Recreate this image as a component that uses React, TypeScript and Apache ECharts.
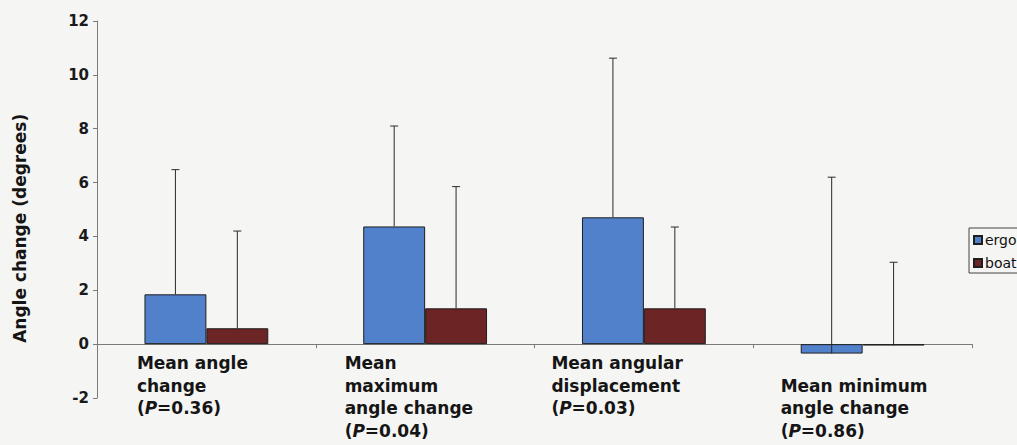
import React, { useEffect, useRef } from "react";
import * as echarts from "echarts";

const seriesNames = ["ergo", "boat"];
const ergoMeans = [1.85, 4.37, 4.71, -0.35];
const ergoSD = [4.63, 3.73, 5.91, 6.55];
const boatMeans = [0.59, 1.33, 1.33, -0.05];
const boatSD = [3.61, 4.52, 3.02, 3.09];
const categories = [
  "Mean angle change",
  "Mean maximum angle change",
  "Mean angular displacement",
  "Mean minimum angle change",
];
const labelLines = [
  ["Mean angle", "change"],
  ["Mean", "maximum", "angle change"],
  ["Mean angular", "displacement"],
  ["Mean minimum", "angle change"],
];
const pValues = ["0.36", "0.04", "0.03", "0.86"];
const yTicks = [-2, 0, 2, 4, 6, 8, 10, 12];
const yTitle = "Angle change (degrees)";

const FONT = "DejaVu Sans";
const BLUE = "#5281cc";
const BROWN = "#6c2425";
const GAP_RATIO = 0.434;

export default function App() {
  const ref = useRef<HTMLDivElement>(null);
  useEffect(() => {
    if (!ref.current) return;
    const chart = echarts.init(ref.current, null, { renderer: "svg" });

    const errSeries = (means: number[], sds: number[], side: number) => ({
      type: "custom",
      silent: true,
      z: 5,
      data: means.map((m, i) => [i, m, m + sds[i]]),
      renderItem: (params: any, api: any) => {
        const idx = api.value(0);
        const band = api.size([1, 0])[0];
        const barW = (band * (1 - GAP_RATIO)) / 2;
        const c0 = api.coord([idx, api.value(1)]);
        const c1 = api.coord([idx, api.value(2)]);
        const x = c0[0] + side * barW / 2;
        const style = { stroke: "#2a2a2a", lineWidth: 1 };
        return {
          type: "group",
          children: [
            { type: "line", shape: { x1: x, y1: c0[1], x2: x, y2: c1[1] }, style },
            { type: "line", shape: { x1: x - 4, y1: c1[1], x2: x + 4, y2: c1[1] }, style },
          ],
        };
      },
    });

    const option: any = {
      animation: false,
      backgroundColor: "#f5f5f4",
      grid: { left: 97, top: 21, right: 45, bottom: 47, containLabel: false },
      legend: {
        orient: "vertical",
        left: 969,
        top: 228,
        data: seriesNames,
        itemWidth: 8,
        itemHeight: 8,
        itemGap: 9,
        padding: [5, 20, 3, 4],
        borderColor: "#444",
        borderWidth: 1,
        icon: "rect",
        textStyle: { fontFamily: FONT, fontSize: 14, color: "#111", lineHeight: 14, padding: [0, 0, 0, -2] },
      },
      xAxis: {
        type: "category",
        data: categories,
        axisLine: { onZero: true, lineStyle: { color: "#7a7a7a", width: 1 } },
        axisTick: { show: true, length: 4, lineStyle: { color: "#7a7a7a" } },
        axisLabel: { show: false },
        splitLine: { show: false },
      },
      yAxis: {
        type: "value",
        min: yTicks[0],
        max: yTicks[yTicks.length - 1],
        interval: 2,
        axisLine: { show: true, lineStyle: { color: "#7a7a7a", width: 1 } },
        axisTick: { show: true, length: 4, lineStyle: { color: "#7a7a7a" } },
        splitLine: { show: false },
        axisLabel: {
          fontFamily: FONT,
          fontWeight: "bold",
          fontSize: 15,
          color: "#1a1a1a",
          margin: 8,
        },
      },
      series: [
        {
          name: seriesNames[0],
          type: "bar",
          data: ergoMeans,
          barGap: "0%",
          barCategoryGap: GAP_RATIO * 100 + "%",
          itemStyle: { color: BLUE, borderColor: "#1e1e1e", borderWidth: 1 },
        },
        {
          name: seriesNames[1],
          type: "bar",
          data: boatMeans,
          barGap: "0%",
          barCategoryGap: GAP_RATIO * 100 + "%",
          itemStyle: { color: BROWN, borderColor: "#1e1e1e", borderWidth: 1 },
        },
        errSeries(ergoMeans, ergoSD, -1),
        errSeries(boatMeans, boatSD, 1),
      ],
    };
    chart.setOption(option);

    // category labels positioned from the axis scale
    const labelOffsetX = [-69.5, -80.5, -92.5, -82];
    const extraLines = [0, 0, 0, 1];
    const zeroY = chart.convertToPixel({ yAxisIndex: 0 }, 0) as number;
    const lineH = 22.5;
    const baseStyle = { fontFamily: FONT, fontWeight: "bold", fontSize: 17, lineHeight: lineH, fill: "#151515" };
    const graphics: any[] = categories.map((_, i) => {
      const cx = chart.convertToPixel({ xAxisIndex: 0 }, i) as number;
      const text =
        labelLines[i].map((l) => "{n|" + l + "}").join("\n") +
        "\n{n|(}{i|P}{n|=" + pValues[i] + ")}";
      return {
        type: "text",
        left: cx + labelOffsetX[i],
        top: zeroY + 8 + extraLines[i] * lineH,
        style: {
          text,
          ...baseStyle,
          rich: {
            n: { ...baseStyle },
            i: { ...baseStyle, fontStyle: "italic" },
          },
        },
      };
    });
    const midY = chart.convertToPixel({ yAxisIndex: 0 }, 4.3) as number;
    graphics.push({
      type: "text",
      x: 20,
      y: midY,
      rotation: Math.PI / 2,
      style: {
        text: yTitle,
        fontFamily: FONT,
        fontWeight: "bold",
        fontSize: 17,
        fill: "#151515",
        align: "center",
        verticalAlign: "middle",
      },
    });
    chart.setOption({ graphic: graphics });

    return () => chart.dispose();
  }, []);
  return (
    <div
      ref={ref}
      style={{ position: "fixed", left: 0, top: 0, width: 1017, height: 445 }}
    />
  );
}
